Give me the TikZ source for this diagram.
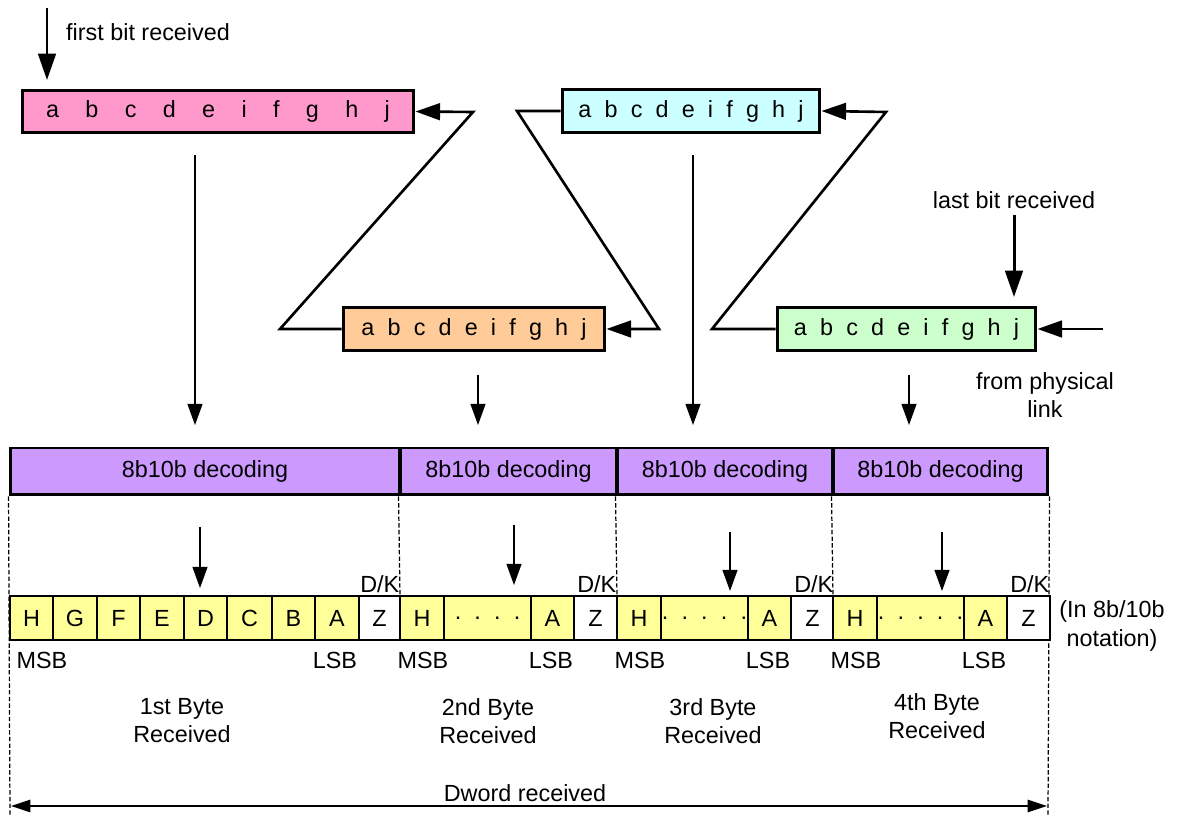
\documentclass[tikz,border=0pt]{standalone}
\usepackage{fontspec}
\setmainfont{Liberation Sans}
\usetikzlibrary{arrows.meta}

\definecolor{sympink}{HTML}{FF99CC}
\definecolor{symcyan}{HTML}{CCFFFF}
\definecolor{symorange}{HTML}{FFCC99}
\definecolor{symgreen}{HTML}{CCFFCC}
\definecolor{decpurple}{HTML}{CC99FF}
\definecolor{cellyellow}{HTML}{FFFF99}

% the ten bits of one symbol, #1 = gap between letters
\newcommand{\symbits}[1]{a\hspace{#1}b\hspace{#1}c\hspace{#1}d\hspace{#1}e\hspace{#1}i\hspace{#1}f\hspace{#1}g\hspace{#1}h\hspace{#1}j}
\newcommand{\dgap}{\hspace{7.5pt}}

\tikzset{
  every node/.style={font=\fontsize{13.3}{16}\selectfont},
  symbox/.style={draw, line width=1.7pt, minimum height=0.85cm, inner sep=0pt},
  decbox/.style={draw, line width=1.7pt, fill=decpurple, minimum height=0.94cm, inner sep=0pt},
  cell/.style={draw, line width=1.6pt, minimum height=0.88cm, inner sep=0pt},
  bigarrow/.style={line width=1.7pt, -{Triangle[length=15pt,width=10pt]}},
  thinarrow/.style={line width=0.8pt, -{Triangle[length=12pt,width=8.5pt]}},
  zigline/.style={line width=1.5pt, line join=miter, -{Triangle[length=14pt,width=9.5pt]}},
  guide/.style={line width=0.7pt, dash pattern=on 2.5pt off 1.3pt},
}

\begin{document}
\begin{tikzpicture}[x=0.02cm, y=-0.02cm]
  \useasboundingbox (0,0) rectangle (1177,820);

  % Symbols as they arrive
  \node[symbox, fill=sympink, minimum width=7.84cm] (sym1) at (218,111.5) {\symbits{15pt}};
  \node[symbox, fill=symorange, minimum width=5.24cm] (sym2) at (474,329) {\symbits{7.5pt}};
  \node[symbox, fill=symcyan, minimum width=5.16cm] (sym3) at (691,111) {\symbits{7.5pt}};
  \node[symbox, fill=symgreen, minimum width=5.18cm] (sym4) at (906.5,329) {\symbits{7.5pt}};

  % First and last bit
  \node[anchor=west] (firstlbl) at (60,32) {first bit received};
  \coordinate (firsttop) at (47,8);
  \coordinate (firsttip) at (47,80);
  \draw[bigarrow] (firsttop) -- (firsttip);
  \node (lastlbl) at (1014,200) {last bit received};
  \coordinate (lasttip) at (1014,297);
  \draw[bigarrow] (lastlbl.south) -- (lasttip);
  \node[align=center] (physlbl) at (1045,395) {from physical\\link};
  \coordinate (link) at (1103,329);
  \draw[zigline] (link) -- (sym4.east);

  % Shifting from one symbol to the next
  \coordinate (k1) at (712,329);
  \coordinate (k2) at (886,112);
  \draw[zigline] (sym4.west) -- (k1) -- (k2) -- (sym3.east);
  \coordinate (k3) at (517,111);
  \coordinate (k4) at (659,329);
  \draw[zigline] (sym3.west) -- (k3) -- (k4) -- (sym2.east);
  \coordinate (k5) at (280,329);
  \coordinate (k6) at (473,112);
  \draw[zigline] (sym2.west) -- (k5) -- (k6) -- (sym1.east);

  % Decoders
  \node[decbox, minimum width=7.8cm] (dec1) at (205,471.5) {8b10b decoding};
  \node[decbox, minimum width=4.34cm] (dec2) at (508.5,471.5) {8b10b decoding};
  \node[decbox, minimum width=4.32cm] (dec3) at (725,471.5) {8b10b decoding};
  \node[decbox, minimum width=4.3cm] (dec4) at (940.5,471.5) {8b10b decoding};

  % Symbols into the decoders
  \foreach \k/\x/\ya in {1/195/155, 2/478/375, 3/693/155, 4/909/375} {
    \coordinate (in\k a) at (\x,\ya);
    \coordinate (in\k b) at (\x,425);
    \draw[thinarrow] (in\k a) -- (in\k b);
  }

  % Dashed guides
  \draw[guide] (dec1.south west) -- (10,815);
  \draw[guide] (dec4.south east) -- (1048,815);
  \draw[guide] (dec2.south west) -- (400,596);
  \draw[guide] (dec3.south west) -- (617,596);
  \draw[guide] (dec4.south west) -- (833,596);

  % Decoders into the bytes
  \foreach \k/\x/\ya/\yb in {1/200/527/588, 2/514/525/585, 3/730/532/591, 4/942/532/591} {
    \coordinate (out\k a) at (\x,\ya);
    \coordinate (out\k b) at (\x,\yb);
    \draw[thinarrow] (out\k a) -- (out\k b);
  }

  % 1st byte
  \foreach \nm/\l/\r/\t in {h/10/53/H, g/53/97/G, f/97/140/F, e/140/184/E, d/184/227/D, c/227/272/C, b/272/315/B, a/315/359/A}
    \node[cell, fill=cellyellow, minimum width={(\r-\l)*0.02cm}] (b1\nm) at ({(\l+\r)/2},618) {\t};
  \node[cell, fill=white, minimum width=0.82cm] (b1z) at (379.5,618) {Z};
  \node[anchor=south east, inner sep=1pt] (b1dk) at (b1z.north east) {D/K};
  \node (b1msb) at (42,660) {MSB};
  \node (b1lsb) at (335,660) {LSB};

  % 2nd to 4th byte
  \foreach \k/\x in {2/400, 3/617, 4/833} {
    \node[cell, fill=cellyellow, minimum width=0.88cm] (b\k h) at (\x+22,618) {H};
    \node[cell, fill=cellyellow, minimum width=1.74cm] (b\k m) at (\x+87.5,618)
      {\ifnum\k=2 .\dgap.\dgap.\dgap.\else .\dgap.\dgap.\dgap.\dgap.\fi};
    \node[cell, fill=cellyellow, minimum width=0.86cm] (b\k a) at (\x+152.5,618) {A};
    \node[cell, fill=white, minimum width=0.86cm] (b\k z) at (\x+195.5,618) {Z};
    \node[anchor=south east, inner sep=1pt] (b\k dk) at (b\k z.north east) {D/K};
    \node (b\k msb) at (\x+23,660) {MSB};
    \node (b\k lsb) at (\x+151,660) {LSB};
  }
  \node[align=center] (notelbl) at (1112,626) {(In 8b/10b\\notation)};

  % Byte labels
  \node[align=center] (byte1) at (182,721) {1st Byte\\Received};
  \node[align=center] (byte2) at (488,721) {2nd Byte\\Received};
  \node[align=center] (byte3) at (713,721) {3rd Byte\\Received};
  \node[align=center] (byte4) at (937,716) {4th Byte\\Received};

  % Whole dword
  \node (dword) at (525,793) {Dword received};
  \coordinate (dwl) at (11,806);
  \coordinate (dwr) at (1047,806);
  \draw[line width=1pt, {Triangle[length=11pt,width=7pt]}-{Triangle[length=11pt,width=7pt]}] (dwl) -- (dwr);
\end{tikzpicture}
\end{document}
